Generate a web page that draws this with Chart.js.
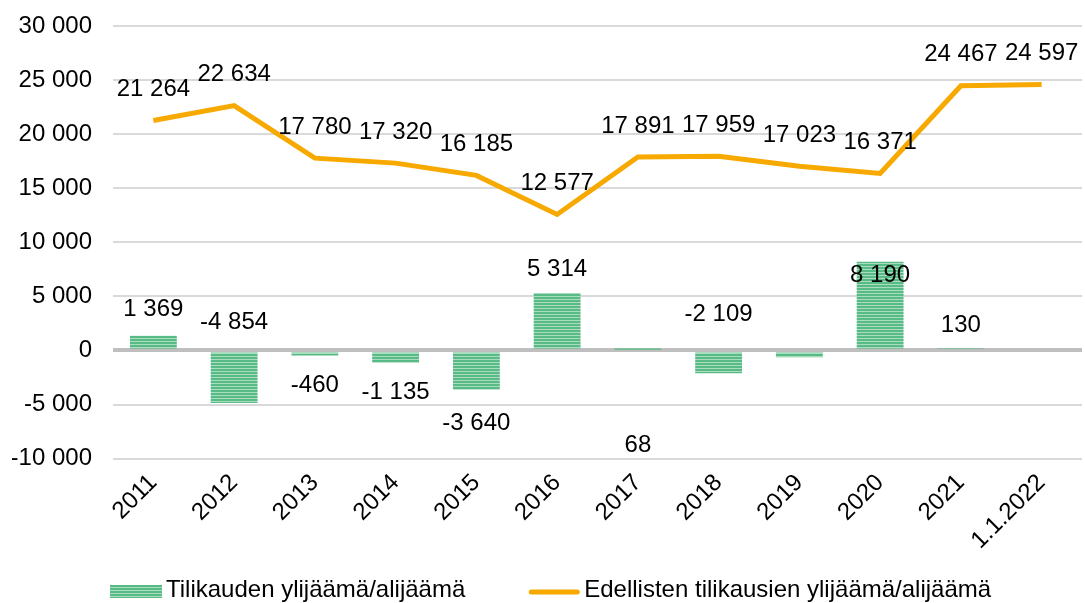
<!DOCTYPE html>
<html lang="fi">
<head>
<meta charset="utf-8">
<title>Tilikauden ylijäämä/alijäämä</title>
<script src="https://cdn.jsdelivr.net/npm/chart.js@4.4.1/dist/chart.umd.min.js"></script>
<style>
  html, body { margin: 0; padding: 0; background: #fff; }
  #wrap { width: 1085px; height: 603px; }
</style>
</head>
<body>
<div id="wrap"><canvas id="chart" width="1085" height="603"></canvas></div>
<script>
// data
const years = ['2011', '2012', '2013', '2014', '2015', '2016', '2017', '2018', '2019', '2020', '2021', '1.1.2022'];
const periodResult = [1369, -4854, -460, -1135, -3640, 5314, 68, -2109, -620, 8190, 130, null];
const accumulated = [21264, 22634, 17780, 17320, 16185, 12577, 17891, 17959, 17023, 16371, 24467, 24597];
const yTicks = [-10000, -5000, 0, 5000, 10000, 15000, 20000, 25000, 30000];

// label placement (pixels from the value end), null = no label
const barLabelShift = [-26, -81, 30, 30, 34, -24, 96, -59, null, 14, -24, null];
const lineLabelShift = -31;

const FAMILY = '"Liberation Sans", Arial, sans-serif';
const FONT = '24px ' + FAMILY;
const GREEN_DARK = '#58ba84';
const GREEN_LIGHT = '#aadcbf';
const ORANGE = '#f7a900';

function fmt(v) {
    const s = Math.abs(v).toString().replace(/\B(?=(\d{3})+(?!\d))/g, ' ');
    return (v < 0 ? '-' : '') + s;
}

function stripes() {
    const c = document.createElement('canvas');
    c.width = 4;
    c.height = 3;
    const g = c.getContext('2d');
    g.fillStyle = GREEN_DARK;
    g.fillRect(0, 0, 4, 3);
    g.fillStyle = GREEN_LIGHT;
    g.fillRect(0, 2, 4, 1);
    return g.createPattern(c, 'repeat');
}

const valueLabels = {
    id: 'valueLabels',
    afterDatasetsDraw(chart) {
        const ctx = chart.ctx;
        ctx.save();
        ctx.font = FONT;
        ctx.fillStyle = '#000';
        ctx.textAlign = 'center';
        ctx.textBaseline = 'middle';
        chart.getDatasetMeta(0).data.forEach((bar, i) => {
            const v = periodResult[i];
            const s = barLabelShift[i];
            if (v == null || s == null) return;
            ctx.fillText(fmt(v), bar.x, bar.y + s);
        });
        chart.getDatasetMeta(1).data.forEach((pt, i) => {
            ctx.fillText(fmt(accumulated[i]), pt.x, pt.y + lineLabelShift);
        });
        ctx.restore();
    }
};

const bottomLegend = {
    id: 'bottomLegend',
    afterDraw(chart, args, opts) {
        const ctx = chart.ctx;
        ctx.save();
        ctx.font = FONT;
        ctx.textAlign = 'left';
        ctx.textBaseline = 'middle';
        let x = opts.x;
        const y = opts.y;
        chart.data.datasets.forEach(ds => {
            if (ds.type === 'line') {
                ctx.strokeStyle = ds.borderColor;
                ctx.lineWidth = ds.borderWidth;
                ctx.lineCap = 'round';
                ctx.beginPath();
                ctx.moveTo(x + 3, y + 2);
                ctx.lineTo(x + opts.swatch - 3, y + 2);
                ctx.stroke();
            } else {
                ctx.fillStyle = ds.backgroundColor;
                ctx.fillRect(x, y - 5, opts.swatch, 13);
            }
            ctx.fillStyle = '#000';
            ctx.fillText(ds.label, x + opts.swatch + opts.gap, y);
            x += opts.swatch + opts.gap + ctx.measureText(ds.label).width + opts.spacing;
        });
        ctx.restore();
    }
};

new Chart(document.getElementById('chart'), {
    data: {
        labels: years,
        datasets: [{
            type: 'bar',
            label: 'Tilikauden ylijäämä/alijäämä',
            data: periodResult,
            backgroundColor: stripes(),
            borderWidth: 0,
            barPercentage: 0.58,
            categoryPercentage: 1,
            order: 1
        }, {
            type: 'line',
            label: 'Edellisten tilikausien ylijäämä/alijäämä',
            data: accumulated,
            borderColor: ORANGE,
            borderWidth: 5,
            pointRadius: 0,
            tension: 0,
            fill: false,
            order: 0
        }]
    },
    options: {
        responsive: false,
        animation: false,
        layout: { padding: { top: 26, left: 12, right: 3, bottom: 46 } },
        plugins: {
            legend: { display: false },
            tooltip: { enabled: false },
            bottomLegend: { x: 110, y: 590, swatch: 52, gap: 4, spacing: 63 }
        },
        scales: {
            x: {
                grid: { display: false },
                border: { display: false },
                afterFit: s => { s.paddingLeft = 0; s.paddingRight = 0; },
                ticks: {
                    color: '#000',
                    font: { family: FAMILY, size: 24 },
                    minRotation: 45,
                    maxRotation: 45,
                    autoSkip: false,
                    padding: 2
                }
            },
            y: {
                min: -10000,
                max: 30000,
                afterBuildTicks: axis => { axis.ticks = yTicks.map(v => ({ value: v })); },
                afterFit: s => { s.width = 101; s.paddingTop = 0; s.paddingBottom = 0; },
                border: { display: false },
                grid: {
                    drawTicks: false,
                    color: c => c.tick && c.tick.value === 0 ? '#bfbfbf' : '#d9d9d9',
                    lineWidth: c => c.tick && c.tick.value === 0 ? 4 : 2
                },
                ticks: {
                    color: '#000',
                    font: { family: FAMILY, size: 24 },
                    padding: 21,
                    callback: v => fmt(v)
                }
            }
        }
    },
    plugins: [valueLabels, bottomLegend]
});
</script>
</body>
</html>
